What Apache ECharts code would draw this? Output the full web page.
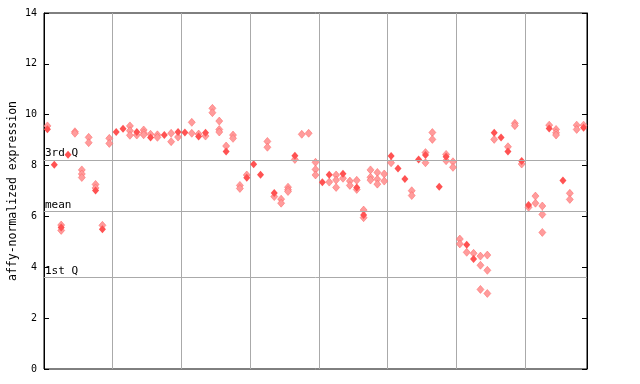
<!DOCTYPE html>
<html>
<head>
<meta charset="utf-8">
<script src="https://cdn.jsdelivr.net/npm/echarts@6/dist/echarts.min.js"></script>
<style>html,body{margin:0;padding:0;background:#fff;}#c{width:640px;height:384px;}</style>
</head>
<body>
<div id="c"></div>
<script>
// sample columns 0..78
const filled = [9.43,8.03,5.56,8.43,null,null,null,7.02,5.5,null,
  9.32,9.45,null,9.32,null,9.1,null,9.2,null,9.32,
  9.3,null,9.14,9.29,null,null,8.55,null,null,7.52,
  8.05,7.64,null,6.92,null,null,8.39,null,null,null,
  7.34,7.64,null,7.68,null,7.14,6.06,null,null,null,
  8.38,7.88,7.47,null,8.24,8.42,null,7.17,8.35,null,
  null,4.89,4.33,null,null,9.29,9.1,8.55,null,8.18,
  6.45,null,null,9.46,null,7.41,null,null,9.49];
const hatchedA = [9.56,null,5.66,null,9.33,7.83,9.11,7.26,5.65,9.07,
  null,null,9.56,9.2,9.4,9.23,9.21,null,9.27,9.12,
  null,9.7,9.24,9.16,10.25,9.75,8.77,9.2,7.22,7.63,
  null,null,8.95,6.78,6.68,7.15,8.24,9.23,9.27,8.13,
  null,7.35,7.63,7.5,7.39,7.42,6.25,7.83,7.73,7.67,
  8.11,null,null,7.01,null,8.51,9.3,null,8.44,8.15,
  5.11,4.59,4.55,4.44,4.48,9.03,null,8.74,9.66,8.06,
  6.36,6.8,6.41,9.59,9.42,null,6.91,9.59,9.59];
const hatchedB = [null,null,5.45,null,9.27,7.67,8.9,7.12,null,8.87,
  null,null,9.37,null,9.29,null,9.11,null,8.94,null,
  null,9.27,null,null,10.08,9.42,null,9.07,7.1,null,
  null,null,8.72,null,6.52,7.05,null,null,null,7.85,
  null,null,7.43,null,7.22,7.06,5.95,7.54,7.46,7.39,
  null,null,null,6.82,null,8.11,9.03,null,8.19,7.93,
  4.92,null,null,4.08,3.88,null,null,null,9.57,null,
  null,6.52,6.08,null,9.29,null,6.67,9.42,null];
const hatchedC = [null,null,null,null,null,7.53,null,null,null,null,
  null,null,9.19,null,9.21,null,null,null,null,null,
  null,null,null,null,null,9.32,null,null,null,null,
  null,null,null,null,null,6.98,null,null,null,7.63,
  null,null,7.14,null,null,null,null,7.43,7.27,null,
  null,null,null,null,null,null,null,null,null,null,
  null,null,null,3.13,2.97,null,null,null,null,null,
  null,null,5.37,null,9.2,null,null,null,null];
const refLines = [{name:'3rd Q', value:8.22},{name:'mean', value:6.2},{name:'1st Q', value:3.6}];
const yTicks = {min:0, max:14, step:2};
const nCols = 79;

function pts(arr){ const out=[]; arr.forEach((v,i)=>{ if(v!==null) out.push([i+0.5, v]); }); return out; }
const hatchedPts = pts(hatchedA).concat(pts(hatchedB), pts(hatchedC));
const mono = 'DejaVu Sans Mono';

const chart = echarts.init(document.getElementById('c'), null, {renderer:'canvas'});
chart.setOption({
  animation:false,
  grid:{left:44, right:53, top:13, bottom:15, containLabel:false, outerBoundsMode:'none',
    show:true, borderColor:'#000', borderWidth:1, backgroundColor:'transparent'},
  xAxis:{type:'value', min:0, max:nCols, interval:10,
    axisLine:{show:false}, axisTick:{show:false}, axisLabel:{show:false},
    splitLine:{show:true, lineStyle:{color:'#aaaaaa', width:1}}},
  yAxis:[{type:'value', min:yTicks.min, max:yTicks.max, interval:yTicks.step,
    name:'affy-normalized expression', nameLocation:'middle', nameGap:25, nameMoveOverlap:false,
    nameTextStyle:{fontFamily:mono, fontSize:11.5, color:'#000'},
    axisLine:{show:true, lineStyle:{color:'#000'}},
    axisTick:{show:true, inside:true, length:5, lineStyle:{color:'#000'}},
    axisLabel:{fontFamily:mono, fontSize:10, color:'#000', margin:7},
    splitLine:{show:false}},
   {type:'value', position:'right', min:yTicks.min, max:yTicks.max, interval:yTicks.step,
    axisLine:{show:true, lineStyle:{color:'#000'}},
    axisTick:{show:true, inside:true, length:5, lineStyle:{color:'#000'}},
    axisLabel:{show:false}, splitLine:{show:false}}],
  series:[
    {type:'scatter', symbol:'diamond', symbolSize:[7,8], z:2,
     itemStyle:{color:'#ff9c9c', borderColor:'#ff6060', borderWidth:0.5, opacity:1},
     data:hatchedPts,
     markLine:{silent:true, symbol:'none',
       lineStyle:{color:'#aaaaaa', type:'solid', width:1},
       label:{show:true, position:'insideStartTop', distance:[1,1], formatter:p=>p.name,
         fontFamily:mono, fontSize:11, color:'#000'},
       data:refLines.map(r=>({name:r.name, yAxis:r.value}))}},
    {type:'scatter', symbol:'diamond', symbolSize:[7,8], z:3,
     itemStyle:{color:'#ff5252', opacity:1},
     data:pts(filled)}
  ]
});
</script>
</body>
</html>
